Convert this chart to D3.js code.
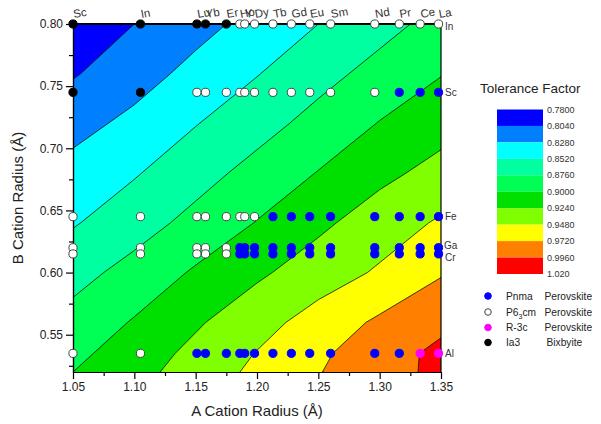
<!DOCTYPE html>
<html>
<head>
<meta charset="utf-8">
<script src="https://cdn.jsdelivr.net/npm/d3@7"></script>
<style>
  body { margin: 0; background: #fff; }
  text { font-family: "Liberation Sans", Arial, sans-serif; fill: #222; }
</style>
</head>
<body>
<svg id="chart" width="601" height="424"></svg>
<script>
// ---- A-site cations (8-/12-coordinate radius, Å) ----
const aCations = ["Sc", "In", "Lu", "Yb", "Er", "Ho", "Y", "Dy", "Tb", "Gd", "Eu", "Sm", "Nd", "Pr", "Ce", "La"];
const aRadii   = [1.050, 1.105, 1.151, 1.158, 1.175, 1.186, 1.190, 1.198, 1.213, 1.228, 1.243, 1.260, 1.296, 1.316, 1.333, 1.348];

// ---- B-site cations (6-coordinate radius, Å) ----
const bCations = ["In", "Sc", "Fe", "Ga", "Cr", "Al"];
const bRadii   = [0.800, 0.745, 0.645, 0.620, 0.615, 0.535];

// Observed structure for each B row, one code per A cation
// I = Ia3 bixbyite, H = P6_3cm, O = Pnma, R = R-3c
const phaseIn = ["I","I","I","I","I","H","H","H","H","H","H","H","H","H","H","H"];
const phaseSc = ["I","I","H","H","H","H","H","H","H","H","H","H","H","O","O","O"];
const phaseFe = ["H","H","H","H","H","H","H","H","O","O","O","O","O","O","O","O"];
const phaseGa = ["H","H","H","H","H","O","O","O","O","O","O","O","O","O","O","O"];
const phaseCr = ["H","H","H","H","H","O","O","O","O","O","O","O","O","O","O","O"];
const phaseAl = ["H","H","O","O","O","O","O","O","O","O","O","O","O","O","R","R"];
const phaseRows = [phaseIn, phaseSc, phaseFe, phaseGa, phaseCr, phaseAl];

// ---- Tolerance factor surface (grid nodes) ----
const gridA = [1.05, 1.10, 1.15, 1.20, 1.25, 1.30, 1.35];
const gridB = [0.52, 0.535, 0.56, 0.60, 0.64, 0.68, 0.72, 0.76, 0.80];
const t052  = [0.900, 0.916, 0.935, 0.953, 0.971, 0.986, 1.002];
const t0535 = [0.894, 0.912, 0.930, 0.949, 0.968, 0.985, 1.002];
const t056  = [0.884, 0.902, 0.921, 0.939, 0.958, 0.976, 0.990];
const t060  = [0.868, 0.884, 0.903, 0.920, 0.936, 0.951, 0.970];
const t064  = [0.850, 0.866, 0.883, 0.901, 0.919, 0.936, 0.951];
const t068  = [0.836, 0.850, 0.867, 0.884, 0.901, 0.918, 0.932];
const t072  = [0.820, 0.834, 0.851, 0.867, 0.884, 0.901, 0.915];
const t076  = [0.802, 0.818, 0.835, 0.851, 0.868, 0.884, 0.899];
const t080  = [0.788, 0.804, 0.820, 0.836, 0.852, 0.868, 0.884];
const tRows = [t052, t0535, t056, t060, t064, t068, t072, t076, t080];

// ---- Colour levels ----
const levels = [0.780, 0.804, 0.828, 0.852, 0.876, 0.900, 0.924, 0.948, 0.972, 0.996, 1.020];
const levelLabels = ["0.7800", "0.8040", "0.8280", "0.8520", "0.8760", "0.9000", "0.9240", "0.9480", "0.9720", "0.9960", "1.020"];
const levelColors = ["#0000ff", "#0080ff", "#00ffff", "#00ffa0", "#00ff55", "#00e000", "#80ff00", "#ffff00", "#ff8000", "#ff0000"];

// ---- Axis ticks ----
const xTicks = [1.05, 1.10, 1.15, 1.20, 1.25, 1.30, 1.35];
const xMinor = [1.075, 1.125, 1.175, 1.225, 1.275, 1.325];
const yTicks = [0.55, 0.60, 0.65, 0.70, 0.75, 0.80];
const yMinor = [0.525, 0.575, 0.625, 0.675, 0.725, 0.775];

// ---- Marker legend ----
const phaseCodes = ["O", "H", "R", "I"];
const phaseNames = ["Pnma", "P6_3cm", "R-3c", "Ia3"];
const phaseKinds = ["Perovskite", "Perovskite", "Perovskite", "Bixbyite"];
const phaseFill  = { O: "#0000ff", H: "#ffffff", R: "#ff00ff", I: "#000000" };
const phaseStroke = { O: "#0000ff", H: "#444444", R: "#ff00ff", I: "#000000" };

const svg = d3.select("#chart");
const L = 73, R = 441, T = 24, B = 372;
const x = d3.scaleLinear().domain([1.05, 1.35]).range([L, R]);
const y = d3.scaleLinear().domain([0.52, 0.80]).range([B, T]);

svg.append("defs").append("clipPath").attr("id", "plotClip")
  .append("rect").attr("x", L).attr("y", T).attr("width", R - L).attr("height", B - T);

// ---- Filled contours ----
const nx = gridA.length, ny = gridB.length;
const values = tRows.flat();
const contours = d3.contours().size([nx, ny]).thresholds(levels.slice(0, -1))(values);
const ix = d3.scaleLinear().domain(d3.range(nx)).range(gridA);
const iy = d3.scaleLinear().domain(d3.range(ny)).range(gridB);
const path = d3.geoPath(d3.geoTransform({
  point(px, py) { this.stream.point(x(ix(px - 0.5)), y(iy(py - 0.5))); }
}));

const plot = svg.append("g").attr("clip-path", "url(#plotClip)");
plot.selectAll("path.band").data(contours).join("path")
  .attr("class", "band")
  .attr("d", path)
  .attr("fill", (d, i) => levelColors[i])
  .attr("stroke", "none");
plot.selectAll("path.iso").data(contours.slice(1)).join("path")
  .attr("class", "iso")
  .attr("d", path)
  .attr("fill", "none")
  .attr("stroke", "#111")
  .attr("stroke-width", 0.8);

// ---- Axes ----
const axFont = g => g.selectAll("text").style("font-size", "12px").style("fill", "#222")
  .style("font-family", "'Liberation Sans', Arial, sans-serif");

svg.append("g").attr("transform", `translate(0,${B})`)
  .call(d3.axisBottom(x).tickValues(xMinor).tickSize(4).tickSizeOuter(0).tickFormat(""));
svg.append("g").attr("transform", `translate(0,${B})`)
  .call(d3.axisBottom(x).tickValues(xTicks).tickSize(7).tickSizeOuter(0).tickPadding(3).tickFormat(d3.format(".2f")))
  .call(axFont);
svg.append("g").attr("transform", `translate(${L},0)`)
  .call(d3.axisLeft(y).tickValues(yMinor).tickSize(4).tickSizeOuter(0).tickFormat(""));
svg.append("g").attr("transform", `translate(${L},0)`)
  .call(d3.axisLeft(y).tickValues(yTicks).tickSize(7).tickSizeOuter(0).tickPadding(3).tickFormat(d3.format(".2f")))
  .call(axFont);
svg.selectAll(".domain, .tick line").attr("stroke", "#000").attr("stroke-width", 1.2);

// frame: right side and heavy top edge
svg.append("line").attr("x1", R).attr("x2", R).attr("y1", T).attr("y2", B).attr("stroke", "#000").attr("stroke-width", 1.2);
svg.append("line").attr("x1", L - 4).attr("x2", R).attr("y1", T).attr("y2", T).attr("stroke", "#000").attr("stroke-width", 2.2);

// axis titles
svg.append("text").attr("x", (L + R) / 2).attr("y", 416).attr("text-anchor", "middle")
  .style("font-size", "15px").text("A Cation Radius (Å)");
svg.append("text").attr("transform", `translate(23,${(T + B) / 2}) rotate(-90)`).attr("text-anchor", "middle")
  .style("font-size", "15px").text("B Cation Radius (Å)");

// ---- Data points ----
const pts = [];
bRadii.forEach((rb, j) => aRadii.forEach((ra, i) => pts.push({ ra, rb, p: phaseRows[j][i] })));
svg.append("g").selectAll("circle").data(pts).join("circle")
  .attr("cx", d => x(d.ra)).attr("cy", d => y(d.rb)).attr("r", 4.1)
  .attr("fill", d => phaseFill[d.p]).attr("stroke", d => phaseStroke[d.p]).attr("stroke-width", 1);

// A cation names along the top edge
svg.append("g").selectAll("text").data(aCations).join("text")
  .attr("transform", (d, i) => `translate(${x(aRadii[i]) + 1},18) rotate(-10)`)
  .style("font-size", "11.5px").style("fill", "#333").text(d => d);

// B cation names on the right edge (Ga and Cr sit close together)
const bLabelShift = { In: 2, Sc: 0, Fe: 0, Ga: -2.5, Cr: 3.5, Al: 0 };
svg.append("g").selectAll("text").data(bCations).join("text")
  .attr("x", d => R + (d === "Ga" ? 3 : 4)).attr("y", (d, i) => y(bRadii[i]) + bLabelShift[d])
  .attr("dy", "0.35em")
  .style("font-size", "10px").style("fill", "#333").text(d => d);

// ---- Colour scale legend ----
svg.append("text").attr("x", 480).attr("y", 93).style("font-size", "13.5px").text("Tolerance Factor");
const ly = d3.scaleLinear().domain([levels[0], levels[levels.length - 1]]).range([109.5, 274]);
const leg = svg.append("g");
leg.selectAll("rect").data(levelColors).join("rect")
  .attr("x", 497).attr("width", 46)
  .attr("y", (d, i) => ly(levels[i]))
  .attr("height", (d, i) => ly(levels[i + 1]) - ly(levels[i]))
  .attr("fill", d => d);
leg.selectAll("text").data(levelLabels).join("text")
  .attr("x", 547).attr("y", (d, i) => ly(levels[i])).attr("dy", "0.35em")
  .style("font-size", "9px").style("fill", "#333").text(d => d);

// ---- Marker legend ----
const mk = svg.append("g");
const rowY = [296, 312, 327.5, 342.5];
phaseCodes.forEach((c, i) => {
  mk.append("circle").attr("cx", 488).attr("cy", rowY[i]).attr("r", 3.3)
    .attr("fill", phaseFill[c]).attr("stroke", phaseStroke[c]).attr("stroke-width", 1);
  const t = mk.append("text").attr("x", 506).attr("y", rowY[i] + 3.6).style("font-size", "10.2px");
  const name = phaseNames[i];
  if (name.includes("_")) {
    const [base, rest] = name.split("_");
    t.append("tspan").text(base);
    t.append("tspan").attr("dy", 3).style("font-size", "7px").text(rest[0]);
    t.append("tspan").attr("dy", -3).text(rest.slice(1));
  } else {
    t.text(name);
  }
  mk.append("text").attr("x", c === "I" ? 546.5 : 544.5).attr("y", rowY[i] + 3.6)
    .style("font-size", "10.2px").text(phaseKinds[i]);
});
</script>
</body>
</html>
